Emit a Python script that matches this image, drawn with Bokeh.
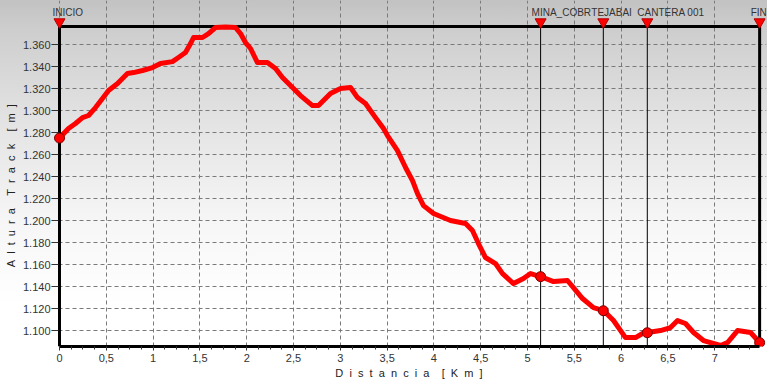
import numpy as np
from bokeh.plotting import figure
from bokeh.models import Range1d, FixedTicker, Label
from bokeh.embed import file_html
from bokeh.resources import INLINE

# ---- data ----
km = [0.0, 0.096, 0.171, 0.246, 0.310, 0.385, 0.459, 0.524, 0.620, 0.726, 0.791, 0.887,
      0.994, 1.079, 1.207, 1.271, 1.346, 1.400, 1.432, 1.528, 1.592, 1.667, 1.774, 1.880,
      1.934, 1.987, 2.041, 2.115, 2.222, 2.308, 2.382, 2.500, 2.575, 2.703, 2.767, 2.895,
      3.002, 3.109, 3.184, 3.269, 3.376, 3.462, 3.504, 3.611, 3.697, 3.771, 3.825, 3.889,
      3.996, 4.177, 4.338, 4.412, 4.476, 4.551, 4.658, 4.733, 4.850, 4.957, 5.032, 5.139,
      5.278, 5.427, 5.491, 5.588, 5.705, 5.812, 5.919, 6.047, 6.154, 6.229, 6.282, 6.421,
      6.528, 6.603, 6.688, 6.774, 6.880, 7.062, 7.137, 7.244, 7.383, 7.480]
alt = [1275, 1283.6, 1288.2, 1293.6, 1295.5, 1302.7, 1310.9, 1318.2, 1324.5, 1333.6, 1334.5, 1336.4,
       1339.1, 1342.7, 1344.5, 1348.2, 1352.7, 1360.9, 1366.4, 1366.4, 1370, 1375.5, 1376, 1375.5,
       1370, 1361.8, 1356.4, 1343.6, 1343.6, 1338.2, 1330, 1320, 1313.6, 1304.5, 1304.5, 1315.5,
       1320, 1320.9, 1311.8, 1306.4, 1293.6, 1283.6, 1277.3, 1263.6, 1248.2, 1236.4, 1224.5, 1213.6,
       1206.4, 1200, 1197.3, 1190.9, 1179.1, 1166.4, 1160.9, 1151.8, 1142.7, 1147.3, 1151.8, 1149.1,
       1144.5, 1145.5, 1139.1, 1129.1, 1120.9, 1118.2, 1109.1, 1093.6, 1093.6, 1097.3, 1098.2, 1100,
       1102.7, 1109.1, 1106.4, 1098.2, 1090.9, 1086.4, 1089.1, 1100, 1098.2, 1089.1]

wp_names = ["INICIO", "MINA_COBR", "TEJABAI", "CANTERA 001", "FIN"]
wp_km = [0.0, 5.14, 5.81, 6.28, 7.48]
wp_alt = [1275, 1149, 1118, 1098, 1089]

y_ticks = [1100, 1120, 1140, 1160, 1180, 1200, 1220, 1240, 1260, 1280, 1300, 1320, 1340, 1360]
y_tick_labels = ["1.100", "1.120", "1.140", "1.160", "1.180", "1.200", "1.220", "1.240",
                 "1.260", "1.280", "1.300", "1.320", "1.340", "1.360"]
x_ticks = [0, 0.5, 1, 1.5, 2, 2.5, 3, 3.5, 4, 4.5, 5, 5.5, 6, 6.5, 7]
x_tick_labels = ["0", "0,5", "1", "1,5", "2", "2,5", "3", "3,5", "4", "4,5", "5", "5,5", "6", "6,5", "7"]

x_title = "Distancia [Km]"
y_title = "Altura Track [m]"

NB = "\u00a0"


def spaced(s, pad_end=0):
    # letter-spaced title as in the original (non-breaking spaces keep the gaps)
    words = s.split(" ")
    return (NB * 4).join((NB * 2).join(w) for w in words) + NB * pad_end


# ---- layout ----
YMIN, YMAX = 1085.5, 1376.4
PX_KM, PX_M = 93.6, 1.1
LEFT, RIGHT, TOP, BOTTOM = 51, 1, 0, 35
W, H = 767, 381
x0 = -(59 - LEFT) / PX_KM
x1 = x0 + (W - LEFT - RIGHT) / PX_KM
ytop = YMAX + (26 - TOP) / PX_M

FONT = "Liberation Sans"

p = figure(width=W, height=H, output_backend="svg", toolbar_location=None,
           x_range=Range1d(x0, x1), y_range=Range1d(YMIN, ytop),
           min_border_left=LEFT, min_border_right=RIGHT, min_border_top=TOP,
           min_border_bottom=BOTTOM,
           border_fill_color=None, background_fill_color=None, outline_line_color=None,
           styles={"background": "linear-gradient(to bottom, #c2c2c2 0%, #cecece 8%, #e4e4e4 33%, #f6f6f6 58%, #ffffff 80%)"})

# grids
p.xgrid.ticker = FixedTicker(ticks=x_ticks)
p.ygrid.ticker = FixedTicker(ticks=y_ticks)
for g in (p.xgrid, p.ygrid):
    g.grid_line_color = "#7a7a7a"
    g.grid_line_dash = "4 3"
    g.grid_line_width = 1
p.xgrid.bounds = (YMIN, YMAX)
p.ygrid.bounds = (0, wp_km[-1])

# x axis
xa = p.xaxis[0]
xa.ticker = FixedTicker(ticks=x_ticks, minor_ticks=list(np.arange(0, 7.5, 0.125)))
xa.major_label_overrides = dict(zip(x_ticks, x_tick_labels))
xa.bounds = (0, wp_km[-1])
xa.axis_line_width = 3
xa.axis_line_color = "black"
xa.major_tick_in = 0
xa.major_tick_out = 4
xa.minor_tick_in = 0
xa.minor_tick_out = 3
xa.major_tick_line_color = "#333333"
xa.minor_tick_line_color = "#333333"
xa.major_label_standoff = 3
xa.major_label_text_font = FONT
xa.major_label_text_font_size = "11px"
xa.major_label_text_color = "#333333"
xa.axis_label = spaced(x_title)
xa.axis_label_text_font = FONT
xa.axis_label_text_font_size = "11px"
xa.axis_label_text_font_style = "normal"
xa.axis_label_text_color = "#222222"
xa.axis_label_standoff = 2

# y axis
ya = p.yaxis[0]
ya.ticker = FixedTicker(ticks=y_ticks)
ya.major_label_overrides = dict(zip(y_ticks, y_tick_labels))
ya.bounds = (YMIN, YMAX)
ya.axis_line_color = None
ya.major_tick_in = 7
ya.major_tick_out = 0
ya.minor_tick_line_color = None
ya.major_tick_line_color = "#333333"
ya.major_label_standoff = 1
ya.major_label_text_font = FONT
ya.major_label_text_font_size = "11px"
ya.major_label_text_color = "#333333"
ya.axis_label = spaced(y_title, pad_end=8)
ya.axis_label_text_font = FONT
ya.axis_label_text_font_size = "11px"
ya.axis_label_text_font_style = "normal"
ya.axis_label_text_color = "#222222"
ya.axis_label_standoff = 3

# frame: top border, start and end lines
p.segment(x0=[0], y0=[YMAX], x1=[wp_km[-1]], y1=[YMAX], line_color="black", line_width=3)
p.segment(x0=[wp_km[0], wp_km[-1]], y0=[YMIN, YMIN], x1=[wp_km[0], wp_km[-1]], y1=[YMAX, YMAX],
          line_color="black", line_width=3)
# intermediate waypoint lines
mid = wp_km[1:-1]
p.segment(x0=mid, y0=[YMIN] * len(mid), x1=mid, y1=[YMAX] * len(mid), line_color="black", line_width=1)

# profile
p.line(km, alt, line_color="#ff0000", line_width=5, line_join="round", line_cap="round")
p.scatter(wp_km, wp_alt, size=10, fill_color="#ff0000", line_color="#7a0000", line_width=1)

# waypoint triangles and names
p.scatter(wp_km, [YMAX + 4.5 / PX_M] * len(wp_km), marker="inverted_triangle", size=11,
          fill_color="#ff0000", line_color="#b00000", line_width=1)
name_offsets = [-7, -9, -12, -10, -9]
for name, k, off in zip(wp_names, wp_km, name_offsets):
    p.add_layout(Label(x=k, y=YMAX, x_offset=off, y_offset=14.5, text=name,
                       text_font=FONT, text_font_size="10px", text_color="#333333",
                       text_align="left", text_baseline="alphabetic"))

open("out.html", "w").write(file_html(p, INLINE))
